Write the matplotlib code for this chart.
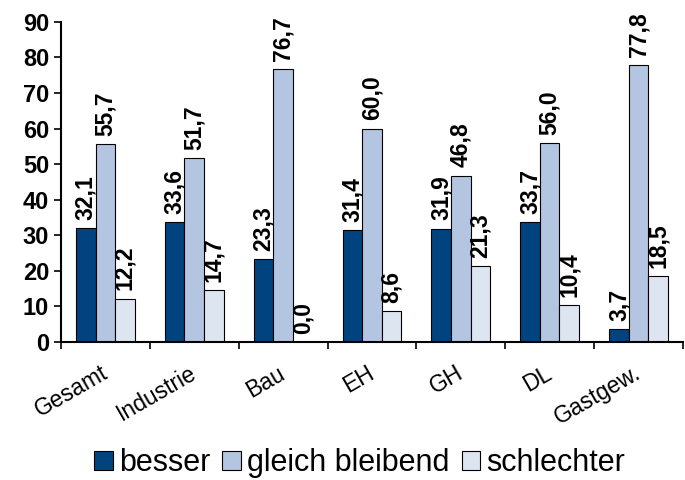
import matplotlib
matplotlib.use("Agg")
import matplotlib.pyplot as plt
import numpy as np

plt.rcParams['font.family'] = ['Liberation Sans', 'DejaVu Sans']

# Kategorien und Anteile in Prozent
categories = ['Gesamt', 'Industrie', 'Bau', 'EH', 'GH', 'DL', 'Gastgew.']
besser = [32.1, 33.6, 23.3, 31.4, 31.9, 33.7, 3.7]
gleich = [55.7, 51.7, 76.7, 60.0, 46.8, 56.0, 77.8]
schlechter = [12.2, 14.7, 0.0, 8.6, 21.3, 10.4, 18.5]
series_names = ['besser', 'gleich bleibend', 'schlechter']
colors = ['#00437f', '#b3c5e0', '#dde5f1']

fig = plt.figure(figsize=(6.85, 4.8), dpi=100)
ax = fig.add_axes([0.089, 0.2875, 0.908, 0.667])

x = np.arange(len(categories))
w = 0.22
for i, (vals, name, col) in enumerate(zip([besser, gleich, schlechter], series_names, colors)):
    pos = x + (i - 1) * w
    ax.bar(pos, vals, width=w, color=col, edgecolor='black', linewidth=0.8, label=name)
    for p, v in zip(pos, vals):
        ax.text(p, v + 2.3, f'{v:.1f}'.replace('.', ','), rotation=90,
                ha='center', va='bottom', fontsize=16.5, fontweight='bold')

ax.set_xlim(-0.5, len(categories) - 0.5)
ax.set_ylim(0, 90)
ax.set_yticks(range(0, 91, 10))
ax.tick_params(axis='y', labelsize=17, length=5, width=1.2)
for lbl in ax.get_yticklabels():
    lbl.set_fontweight('bold')

# Kategorie-Striche an den Gruppengrenzen, Beschriftung mittig
ax.set_xticks(np.arange(len(categories) + 1) - 0.5)
ax.set_xticklabels([])
ax.tick_params(axis='x', length=5, width=1.2)
for xi, cat in zip(x, categories):
    ax.text(xi + 0.07, -5.5, cat, rotation=30, ha='right', va='top',
            fontsize=16.5, transform=ax.transData)

for side in ['top', 'right']:
    ax.spines[side].set_visible(False)
for side in ['left', 'bottom']:
    ax.spines[side].set_linewidth(1.5)

fig.legend(loc='center', bbox_to_anchor=(0.525, 0.035), ncol=3, frameon=False,
           fontsize=22, handlelength=0.6, handleheight=0.6, handletextpad=0.2,
           columnspacing=0.4)

fig.savefig('out.png', dpi=100)
